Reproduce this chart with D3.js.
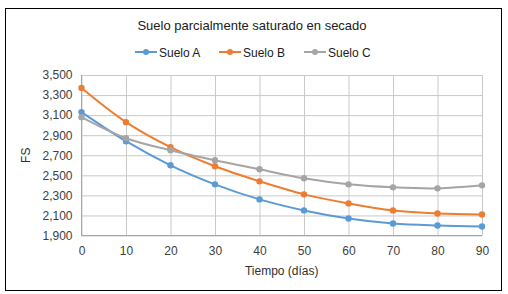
<!DOCTYPE html>
<html lang="es">
<head>
<meta charset="utf-8">
<title>Suelo parcialmente saturado en secado</title>
<script src="https://d3js.org/d3.v7.min.js"></script>
<style>
    body { margin: 0; background: #fff; font-family: 'Liberation Sans', Arial, sans-serif; }
    svg { display: block; }
    .grid line { stroke: #c9c9c9; stroke-width: 1; }
    .grid path { stroke-width: 0; }
    .axis path, .axis line { stroke: none; }
    .axis text { font-size: 12px; fill: #404040; font-family: 'Liberation Sans', Arial, sans-serif; }
    text.title { font-size: 13px; fill: #202020; }
    text.legend { font-size: 12px; fill: #202020; }
    text.label { font-size: 12px; fill: #303030; }
</style>
</head>
<body>
<svg width="508" height="294"></svg>
<script>
    const days = [0, 10, 20, 30, 40, 50, 60, 70, 80, 90];
    const sueloA = [3130, 2840, 2600, 2410, 2260, 2150, 2070, 2020, 2000, 1990];
    const sueloB = [3370, 3030, 2780, 2590, 2440, 2310, 2220, 2150, 2120, 2110];
    const sueloC = [3080, 2870, 2750, 2650, 2560, 2470, 2410, 2380, 2370, 2400];
    const yTicks = [1900, 2100, 2300, 2500, 2700, 2900, 3100, 3300, 3500];
    const seriesNames = ['Suelo A', 'Suelo B', 'Suelo C'];
    const seriesColors = ['#5B9BD5', '#ED7D31', '#A5A5A5'];

    const series = [sueloA, sueloB, sueloC].map((vals, i) => ({
        name: seriesNames[i],
        color: seriesColors[i],
        points: days.map((d, j) => ({ x: d, y: vals[j] }))
    }));

    const svg = d3.select('svg');

    // outer frame
    svg.append('rect')
        .attr('x', 5.5).attr('y', 8.5)
        .attr('width', 496).attr('height', 282)
        .attr('fill', 'none').attr('stroke', '#000').attr('stroke-width', 1);

    const plotLeft = 81.5, plotRight = 482, plotTop = 75, plotBottom = 235.5;

    const x = d3.scaleLinear().domain([0, 90]).range([plotLeft, plotRight]);
    const y = d3.scaleLinear().domain([1900, 3500]).range([plotBottom, plotTop]);

    // horizontal grid
    svg.append('g')
        .attr('class', 'grid')
        .attr('transform', `translate(${plotLeft},0)`)
        .call(d3.axisLeft(y).tickValues(yTicks).tickSize(-(plotRight - plotLeft)).tickFormat(''));

    // vertical grid
    svg.append('g')
        .attr('class', 'grid')
        .attr('transform', `translate(0,${plotBottom})`)
        .call(d3.axisBottom(x).tickValues(days).tickSize(-(plotBottom - plotTop)).tickFormat(''));

    // axis lines
    svg.append('line')
        .attr('x1', plotLeft).attr('x2', plotLeft).attr('y1', plotTop).attr('y2', plotBottom)
        .attr('stroke', '#a6a6a6');
    svg.append('line')
        .attr('x1', plotLeft).attr('x2', plotRight).attr('y1', plotBottom).attr('y2', plotBottom)
        .attr('stroke', '#a6a6a6');

    svg.append('g')
        .attr('class', 'axis')
        .attr('transform', `translate(${plotLeft - 5},0)`)
        .call(d3.axisLeft(y).tickValues(yTicks).tickSize(0).tickPadding(4).tickFormat(d3.format(',')));

    svg.append('g')
        .attr('class', 'axis')
        .attr('transform', `translate(0,${plotBottom + 5})`)
        .call(d3.axisBottom(x).tickValues(days).tickSize(0).tickPadding(6));

    const line = d3.line()
        .x(d => x(d.x))
        .y(d => y(d.y))
        .curve(d3.curveCatmullRom.alpha(0.5));

    series.forEach(s => {
        svg.append('path')
            .datum(s.points)
            .attr('fill', 'none')
            .attr('stroke', s.color)
            .attr('stroke-width', 2)
            .attr('d', line);
        svg.append('g')
            .selectAll('circle')
            .data(s.points)
            .join('circle')
            .attr('cx', d => x(d.x))
            .attr('cy', d => y(d.y))
            .attr('r', 3.2)
            .attr('fill', s.color);
    });

    // title
    svg.append('text')
        .attr('class', 'title')
        .attr('x', 252).attr('y', 30)
        .attr('text-anchor', 'middle')
        .text('Suelo parcialmente saturado en secado');

    // legend
    const legendX = [135, 219, 304];
    series.forEach((s, i) => {
        const g = svg.append('g').attr('transform', `translate(${legendX[i]},52)`);
        g.append('line').attr('x1', 0).attr('x2', 22).attr('y1', 0).attr('y2', 0)
            .attr('stroke', s.color).attr('stroke-width', 2);
        g.append('circle').attr('cx', 11).attr('cy', 0).attr('r', 3).attr('fill', s.color);
        g.append('text').attr('class', 'legend')
            .attr('x', 24).attr('y', 4.5)
            .text(s.name);
    });

    // axis titles
    svg.append('text')
        .attr('class', 'label')
        .attr('transform', `translate(30,${(plotTop + plotBottom) / 2}) rotate(-90)`)
        .attr('text-anchor', 'middle')
        .text('FS');

    svg.append('text')
        .attr('class', 'label')
        .attr('x', (plotLeft + plotRight) / 2).attr('y', 275)
        .attr('text-anchor', 'middle')
        .text('Tiempo (días)');
</script>
</body>
</html>
